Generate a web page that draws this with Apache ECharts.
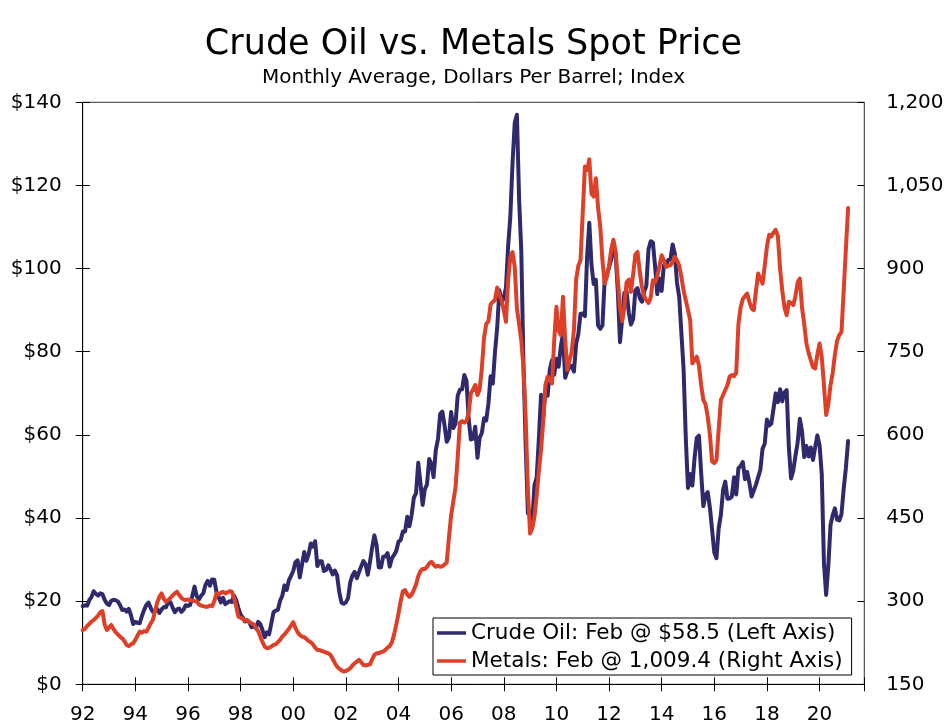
<!DOCTYPE html>
<html>
<head>
<meta charset="utf-8">
<title>Crude Oil vs. Metals Spot Price</title>
<script src="https://cdn.jsdelivr.net/npm/echarts@6/dist/echarts.min.js"></script>
<style>
  html, body { margin: 0; padding: 0; background: #fff; }
  #chart { width: 947px; height: 727px; }
</style>
</head>
<body>
<div id="chart"></div>
<script>
// monthly averages, Jan 1992 .. Feb 2021
const startYear = 1992
const tickLabels = ['92', '94', '96', '98', '00', '02', '04', '06', '08', '10', '12', '14', '16', '18', '20']

// crude oil, dollars per barrel (left axis)
const crudeOil = [
  18.79, 19.01, 18.92, 20.23, 20.98, 22.39, 21.78, 21.34, 21.88, 21.69, 20.34, 19.41,
  19.03, 20.09, 20.32, 20.25, 19.95, 19.09, 17.89, 18.01, 17.50, 18.15, 16.61, 14.52,
  15.03, 14.78, 14.68, 16.42, 17.89, 19.06, 19.65, 18.38, 17.45, 17.72, 18.07, 17.16,
  18.04, 18.57, 18.54, 19.90, 19.74, 18.45, 17.33, 18.02, 18.23, 17.43, 17.99, 19.03,
  18.85, 19.09, 21.33, 23.50, 21.17, 20.42, 21.30, 21.90, 23.97, 24.88, 23.71, 25.23,
  25.13, 22.18, 20.97, 19.70, 20.82, 19.26, 19.66, 19.95, 19.80, 21.33, 20.19, 18.33,
  16.72, 16.06, 15.12, 15.35, 14.91, 13.72, 14.17, 13.47, 15.03, 14.46, 13.00, 11.35,
  12.52, 12.01, 14.68, 17.31, 17.72, 17.92, 20.10, 21.28, 23.80, 22.69, 25.00, 26.10,
  27.26, 29.37, 29.84, 25.72, 28.79, 31.82, 29.70, 31.26, 33.88, 33.11, 34.42, 28.44,
  29.59, 29.61, 27.24, 27.49, 28.63, 27.60, 26.43, 27.37, 26.20, 22.17, 19.64, 19.39,
  19.72, 20.72, 24.53, 26.18, 27.04, 25.52, 26.97, 28.39, 29.66, 28.84, 26.35, 29.46,
  32.95, 35.83, 33.51, 28.17, 28.11, 30.66, 30.75, 31.57, 28.31, 30.34, 31.11, 32.13,
  34.31, 34.69, 36.74, 36.75, 40.28, 38.03, 40.78, 44.90, 45.94, 53.28, 48.47, 43.15,
  46.84, 48.15, 54.19, 52.98, 49.83, 56.35, 59.00, 64.99, 65.59, 62.26, 58.32, 59.41,
  65.49, 61.63, 62.69, 69.44, 70.84, 70.95, 74.41, 73.04, 63.80, 58.89, 59.08, 61.96,
  54.51, 59.28, 60.44, 63.98, 63.46, 67.49, 74.12, 72.36, 79.92, 85.80, 94.77, 91.69,
  92.97, 95.39, 105.45, 112.58, 125.40, 135.00, 137.00, 116.67, 104.11, 76.61, 57.31, 41.12,
  41.71, 39.09, 47.94, 49.65, 59.03, 69.64, 64.15, 71.05, 69.41, 75.72, 77.99, 74.47,
  78.33, 76.39, 81.20, 84.29, 73.74, 75.34, 76.32, 76.60, 75.24, 81.89, 84.25, 89.15,
  89.17, 88.58, 102.86, 111.00, 100.90, 96.26, 97.30, 86.33, 85.52, 86.32, 97.16, 98.56,
  100.27, 102.20, 106.16, 103.32, 94.66, 82.30, 87.90, 94.13, 94.51, 89.49, 86.53, 87.86,
  94.76, 95.31, 92.94, 92.02, 94.51, 95.77, 104.67, 106.57, 106.29, 100.54, 93.86, 97.63,
  94.62, 100.82, 100.80, 102.07, 102.18, 105.79, 103.59, 96.54, 93.21, 84.40, 75.79, 59.29,
  47.22, 50.58, 47.82, 54.45, 59.27, 59.82, 50.90, 42.87, 45.48, 46.22, 42.44, 37.19,
  31.68, 30.32, 37.55, 40.75, 46.71, 48.76, 44.65, 44.72, 45.18, 49.78, 45.66, 51.97,
  52.50, 53.47, 49.33, 51.06, 48.48, 45.18, 46.63, 48.04, 49.82, 51.58, 56.64, 57.88,
  63.70, 62.23, 62.73, 66.25, 69.98, 67.87, 70.98, 68.06, 70.23, 70.75, 56.96, 49.52,
  51.38, 54.95, 58.15, 63.86, 60.83, 54.66, 57.35, 54.81, 56.95, 53.96, 57.03, 59.88,
  57.52, 50.54, 29.21, 21.50, 28.56, 38.31, 40.71, 42.34, 39.63, 39.40, 40.94, 47.02,
  52.00, 58.5
]

// metals index (right axis)
const metals = [
  248, 250, 255, 259, 263, 266, 270, 274, 280, 282, 258, 248,
  252, 257, 250, 244, 240, 236, 233, 228, 221, 219, 222, 224,
  230, 238, 245, 243, 246, 245, 252, 260, 266, 282, 298, 308,
  314, 304, 299, 302, 306, 310, 314, 317, 311, 306, 303, 302,
  303, 302, 301, 300, 300, 294, 292, 291, 290, 290, 292, 291,
  300, 314, 312, 315, 317, 314, 316, 318, 317, 306, 290, 272,
  270, 268, 265, 266, 262, 260, 258, 252, 246, 236, 226, 218,
  215, 216, 218, 221, 222, 226, 230, 236, 240, 245, 250, 256,
  262, 252, 244, 239, 236, 235, 232, 228, 226, 222, 216, 212,
  212, 210, 209, 207, 206, 203, 196, 188, 182, 178, 175, 173,
  174, 176, 179, 184, 188, 191, 194, 190, 185, 184, 185, 186,
  195, 203, 206, 206, 208, 209, 212, 216, 219, 226, 240, 258,
  278, 300, 318, 320, 312, 308, 312, 320, 330, 345, 354, 358,
  358, 362, 368, 371, 366, 362, 364, 362, 363, 366, 370, 415,
  455, 480, 505, 560, 622, 625, 622, 625, 640, 675, 682, 690,
  672, 682, 720, 775, 800, 805, 835, 840, 843, 866, 852, 843,
  825, 804, 880, 921, 930, 903, 828, 800, 770, 720, 630, 500,
  422, 432, 452, 490, 535, 573, 625, 690, 705, 698, 693, 770,
  831, 788, 780, 849, 772, 717, 735, 750, 790, 880, 905, 915,
  1000, 1084, 1078, 1097, 1035, 1030, 1063, 1010, 976, 915, 873, 885,
  905, 935, 952, 930, 880, 830, 805, 830, 875, 880, 858, 890,
  925, 930, 895, 867, 850, 843, 838, 848, 879, 875, 886, 905,
  924, 915, 903, 905, 906, 912, 921, 915, 905, 885, 860, 843,
  825, 807, 729, 735, 741, 725, 690, 663, 655, 633, 600, 552,
  549, 555, 610, 663, 672, 681, 690, 705, 708, 706, 712, 800,
  830, 845, 850, 855, 840, 828, 825, 860, 891, 882, 873, 905,
  940, 961, 958, 965, 970, 958, 900, 860, 830, 816, 840, 838,
  834, 850, 875, 882, 830, 800, 765, 748, 735, 722, 720, 745,
  765, 740, 690, 636, 655, 690, 712, 745, 770, 780, 786, 860,
  935, 1009.4
]

const FONT = 'DejaVu Sans'
const NAVY = '#2f2a6c'
const RED = '#dd4027'
const xMax = 356.4 // months; the axis runs on a bit past the last point

const lastOil = crudeOil[crudeOil.length - 1]
const lastMetals = metals[metals.length - 1]
const oilName = 'Crude Oil: Feb @ $' + lastOil.toFixed(1) + ' (Left Axis)'
const metalsName = 'Metals: Feb @ ' + lastMetals.toLocaleString('en-US', { minimumFractionDigits: 1 }) + ' (Right Axis)'

const toPoints = arr => arr.map((v, i) => [i, v])

const labelStyle = { fontFamily: FONT, fontSize: 20, color: '#000' }
const blackLine = { color: '#000', width: 1 }

// ticks in the picture cross the axis line, so each axis gets a twin with inside ticks
function xAxisOf (inside) {
  return {
    type: 'value',
    position: 'bottom',
    min: 0,
    max: xMax,
    interval: 24,
    axisLine: { show: !inside, lineStyle: blackLine },
    axisTick: { show: true, inside: inside, length: 7, lineStyle: blackLine },
    axisLabel: inside
      ? { show: false }
      : Object.assign({ margin: 20, formatter: v => (v % 24 === 0 ? tickLabels[v / 24] : '') }, labelStyle),
    splitLine: { show: false }
  }
}

function yAxisOf (position, min, max, interval, formatter, inside) {
  return {
    type: 'value',
    position: position,
    min: min,
    max: max,
    interval: interval,
    axisLine: { show: !inside, lineStyle: blackLine },
    axisTick: { show: true, inside: inside, length: 7, lineStyle: blackLine },
    axisLabel: inside
      ? { show: false }
      : Object.assign({ margin: position === 'left' ? 21 : 22, formatter: formatter }, labelStyle),
    splitLine: { show: false }
  }
}

const chart = echarts.init(document.getElementById('chart'))
chart.setOption({
  animation: false,
  backgroundColor: '#fff',
  title: {
    text: 'Crude Oil vs. Metals Spot Price',
    subtext: 'Monthly Average, Dollars Per Barrel; Index',
    left: 'center',
    top: 27,
    padding: 0,
    itemGap: 6,
    textStyle: { fontFamily: FONT, fontSize: 35, fontWeight: 'normal', color: '#000' },
    subtextStyle: { fontFamily: FONT, fontSize: 20, color: '#000' }
  },
  legend: {
    orient: 'vertical',
    left: 433,
    top: 618,
    padding: [4, 9, 3, 4],
    itemGap: 6,
    itemWidth: 29,
    itemHeight: 3.5,
    icon: 'rect',
    backgroundColor: '#fff',
    borderColor: '#000',
    borderWidth: 1,
    borderRadius: 0,
    selectedMode: false,
    textStyle: { fontFamily: FONT, fontSize: 21.5, color: '#000' },
    data: [oilName, metalsName]
  },
  grid: {
    left: 82.7,
    right: 82.7,
    top: 102.3,
    bottom: 42.7,
    show: true,
    borderColor: '#333',
    borderWidth: 1
  },
  xAxis: [xAxisOf(false), xAxisOf(true)],
  yAxis: [
    yAxisOf('left', 0, 140, 20, '${value}', false),
    yAxisOf('right', 150, 1200, 150, v => v.toLocaleString('en-US'), false),
    yAxisOf('left', 0, 140, 20, null, true),
    yAxisOf('right', 150, 1200, 150, null, true)
  ],
  series: [
    {
      name: oilName,
      type: 'line',
      xAxisIndex: 0,
      yAxisIndex: 0,
      data: toPoints(crudeOil),
      showSymbol: false,
      symbol: 'none',
      lineStyle: { color: NAVY, width: 4, join: 'round', cap: 'round' },
      itemStyle: { color: NAVY },
      emphasis: { disabled: true },
      z: 2
    },
    {
      name: metalsName,
      type: 'line',
      xAxisIndex: 0,
      yAxisIndex: 1,
      data: toPoints(metals),
      showSymbol: false,
      symbol: 'none',
      lineStyle: { color: RED, width: 4, join: 'round', cap: 'round' },
      itemStyle: { color: RED },
      emphasis: { disabled: true },
      z: 3
    }
  ]
})
</script>
</body>
</html>
